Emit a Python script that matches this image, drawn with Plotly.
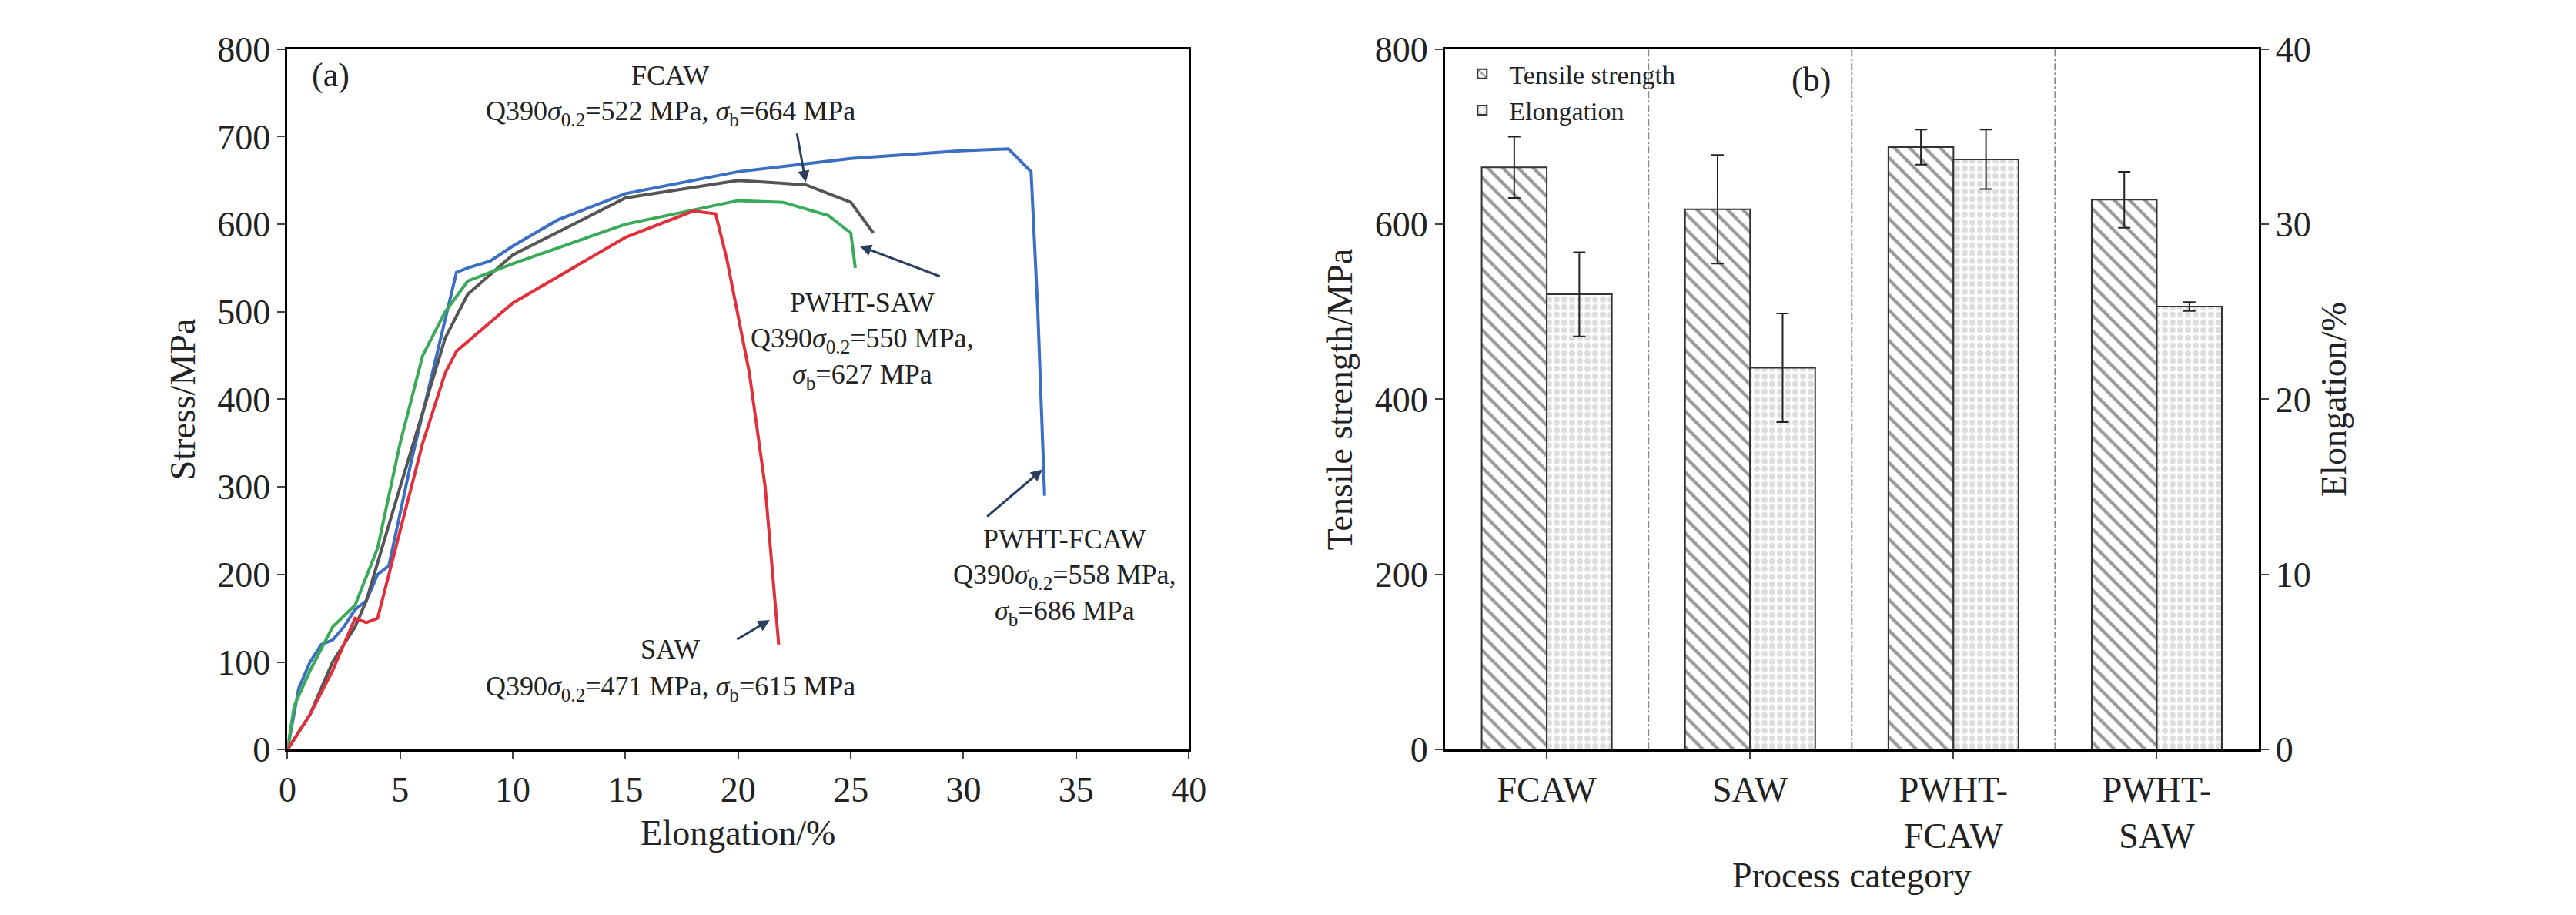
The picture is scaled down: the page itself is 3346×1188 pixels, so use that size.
import plotly.graph_objects as go

# (a) stress-strain curves
pf_x = [0,0.5,1,1.5,2,2.5,3,3.5,4,4.5,5.5,7,7.5,8,9,10,12,15,20,25,30,32,33,33.3,33.6]
pf_y = [0,70,100,120,125,140,160,170,200,210,330,490,545,550,558,575,605,635,660,675,684,686,660,500,290]
fc_x = [0,1,2,3,3.5,5,7,8,10,15,20,23,25,26]
fc_y = [0,40,100,140,170,300,470,520,565,630,650,645,625,590]
ps_x = [0,0.3,1,2,3,4,5,6,7,8,10,15,20,22,24,25,25.2]
ps_y = [0,50,90,140,165,230,350,450,500,535,555,600,627,625,610,590,550]
sa_x = [0,1,2,3,3.5,4,5,6,7,7.5,10,15,18,19,19.5,20.5,21.2,21.8]
sa_y = [0,40,90,150,145,150,250,350,430,455,510,585,615,612,560,430,300,120]

# (b) bars
cats = ["FCAW", "SAW", "PWHT-<br>FCAW", "PWHT-<br>SAW"]
ts = [665, 617, 688, 628]
ts_err = [35, 62, 20, 32]
el = [26.0, 21.8, 33.7, 25.3]
el_err = [2.4, 3.1, 1.7, 0.25]

F = "Liberation Serif"
fig = go.Figure()
for x, y, c in [(pf_x, pf_y, "#3a6fc4"), (fc_x, fc_y, "#555555"), (ps_x, ps_y, "#3aaa5a"), (sa_x, sa_y, "#e0303c")]:
    fig.add_trace(go.Scatter(x=x, y=y, mode="lines", line=dict(color=c, width=4), showlegend=False, xaxis="x", yaxis="y"))

idx = list(range(len(cats)))
fig.add_trace(go.Bar(x=[i - 0.16 for i in idx], y=ts, width=0.32, name="Tensile strength",
                     marker=dict(color="white", line=dict(color="#333", width=2),
                                 pattern=dict(shape="\\", fgcolor="#333", size=14, solidity=0.3)),
                     error_y=dict(type="data", array=ts_err, color="#222", thickness=2, width=8),
                     xaxis="x2", yaxis="y2"))
fig.add_trace(go.Bar(x=[i + 0.16 for i in idx], y=el, width=0.32, name="Elongation",
                     marker=dict(color="white", line=dict(color="#333", width=2),
                                 pattern=dict(shape=".", fgcolor="#bbb", size=10, solidity=0.5)),
                     error_y=dict(type="data", array=el_err, color="#222", thickness=2, width=8),
                     xaxis="x2", yaxis="y3"))

ax = dict(showline=True, linecolor="black", linewidth=3, mirror=True, ticks="outside", ticklen=10,
          tickwidth=2, showgrid=False, zeroline=False, tickfont=dict(family=F, size=46, color="#222"))
shapes = [dict(type="line", xref="x2", yref="y2 domain", x0=v, x1=v, y0=0, y1=1,
               line=dict(color="#888", width=2, dash="dashdot")) for v in [0.5, 1.5, 2.5]]

fig.update_layout(
    width=3346, height=1188, plot_bgcolor="white", paper_bgcolor="white",
    font=dict(family=F, size=40, color="#222"),
    margin=dict(l=0, r=0, t=0, b=0), shapes=shapes, barmode="overlay",
    xaxis=dict(ax, domain=[0.107, 0.4605], range=[0, 40], dtick=5,
               title=dict(text="Elongation/%", font=dict(family=F, size=46))),
    yaxis=dict(ax, domain=[0.173, 0.973], range=[0, 800], dtick=100,
               title=dict(text="Stress/MPa", font=dict(family=F, size=46))),
    xaxis2=dict(ax, domain=[0.561, 0.880], range=[-0.5, 3.5], tickvals=idx, ticktext=cats,
                anchor="y2", title=dict(text="Process category", font=dict(family=F, size=46), standoff=5)),
    yaxis2=dict(ax, domain=[0.173, 0.973], range=[0, 800], dtick=200, anchor="x2", mirror=False,
                title=dict(text="Tensile strength/MPa", font=dict(family=F, size=46))),
    yaxis3=dict(ax, range=[0, 40], dtick=10, overlaying="y2", side="right", anchor="x2", mirror=False,
                title=dict(text="Elongation/%", font=dict(family=F, size=46))),
    legend=dict(x=0.565, y=0.97, xref="paper", yref="paper", bgcolor="rgba(0,0,0,0)",
                font=dict(family=F, size=34), itemwidth=60),
)

fs = 36
ann = [
    dict(x=1, y=770, text="(a)", showarrow=False, xanchor="left", font=dict(size=44)),
    dict(x=17, y=770, text="FCAW", showarrow=False),
    dict(x=17, y=727, text="Q390<i>σ</i><sub>0.2</sub>=522 MPa, <i>σ</i><sub>b</sub>=664 MPa", showarrow=False),
    dict(x=23, y=648, ax=22.6, ay=705, axref="x", ayref="y", text="", showarrow=True, arrowhead=2, arrowwidth=3, arrowsize=1),
    dict(x=25.5, y=510, text="PWHT-SAW", showarrow=False),
    dict(x=25.5, y=468, text="Q390<i>σ</i><sub>0.2</sub>=550 MPa,", showarrow=False),
    dict(x=25.5, y=426, text="<i>σ</i><sub>b</sub>=627 MPa", showarrow=False),
    dict(x=25.4, y=575, ax=29, ay=540, axref="x", ayref="y", text="", showarrow=True, arrowhead=2, arrowwidth=3, arrowsize=1),
    dict(x=34.5, y=240, text="PWHT-FCAW", showarrow=False),
    dict(x=34.5, y=198, text="Q390<i>σ</i><sub>0.2</sub>=558 MPa,", showarrow=False),
    dict(x=34.5, y=156, text="<i>σ</i><sub>b</sub>=686 MPa", showarrow=False),
    dict(x=33.5, y=320, ax=31, ay=265, axref="x", ayref="y", text="", showarrow=True, arrowhead=2, arrowwidth=3, arrowsize=1),
    dict(x=17, y=115, text="SAW", showarrow=False),
    dict(x=17, y=70, text="Q390<i>σ</i><sub>0.2</sub>=471 MPa, <i>σ</i><sub>b</sub>=615 MPa", showarrow=False),
    dict(x=21.4, y=148, ax=19.9, ay=125, axref="x", ayref="y", text="", showarrow=True, arrowhead=2, arrowwidth=3, arrowsize=1),
]
for a in ann:
    a.setdefault("xref", "x"); a.setdefault("yref", "y")
    a.setdefault("font", dict(size=fs))
    a["font"]["family"] = F
    fig.add_annotation(**a)
fig.add_annotation(x=1.3, y=765, xref="x2", yref="y2", text="(b)", showarrow=False, font=dict(family=F, size=44))

fig.write_html("out.html")
